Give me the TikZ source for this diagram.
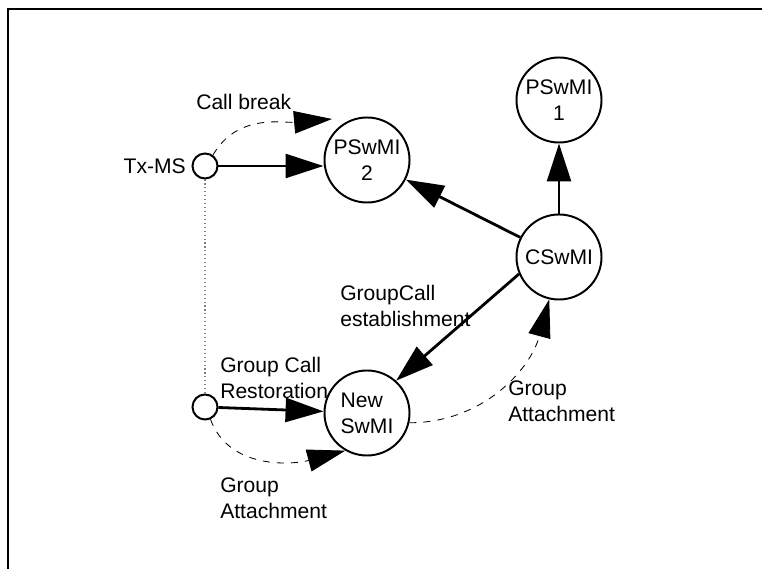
\documentclass[tikz,border=0pt]{standalone}
\usepackage{fontspec}
\setmainfont{Liberation Sans}
\usetikzlibrary{arrows.meta}

\begin{document}
\begin{tikzpicture}[x=0.025cm, y=-0.025cm,
  font=\fontsize{15}{18.5}\selectfont,
  swmi/.style = {shape=circle, draw, line width=1.4pt,
    minimum size=2.125cm, inner sep=0pt, align=center},
  ms/.style = {shape=circle, draw, line width=1.4pt,
    minimum size=0.625cm, inner sep=0pt},
  lbl/.style = {anchor=west, inner sep=0pt, align=left},
  msg/.style = {line width=2pt, -{Triangle[length=27pt, width=17pt]}},
  back/.style = {dash pattern=on 5pt off 5pt, line width=0.6pt,
    -{Triangle[length=27pt, width=16pt]}}]
  \useasboundingbox (0,0) rectangle (762,569);
  \draw[line width=1.8pt] (8,569) -- (8,9) -- (762,9);

  \node[swmi] (pswmi1) at (559,100) {PSwMI\\1};
  \node[swmi] (pswmi2) at (367,160) {PSwMI\\2};
  \node[swmi] (cswmi) at (559,257) {CSwMI};
  \node[swmi, align=left] (newswmi) at (367,413) {New\\SwMI};
  \node[ms] (txms) at (205,166) {};
  \node[ms] (msnew) at (205,407) {};

  \node[lbl, anchor=east] (txmslbl) at (186,166) {Tx-MS};
  \node[lbl] (cbreak) at (196,102) {Call break};
  \node[lbl] (restore) at (220,378) {Group Call\\Restoration};
  \node[lbl] (establish) at (340,306) {GroupCall\\establishment};
  \node[lbl] (attachR) at (508,401) {Group\\Attachment};
  \node[lbl] (attachB) at (220,498) {Group\\Attachment};

  \coordinate (cbtip) at (332,119);
  \draw[msg] (txms.east) -- (txms.east -| pswmi2.west);
  \draw[msg] (cswmi) -- (pswmi1);
  \draw[msg] (cswmi) -- (pswmi2);
  \draw[msg] (cswmi.203) -- (newswmi.48);
  \draw[msg] (msnew) -- (newswmi);
  \draw[dotted, gray, line width=0.8pt] (txms) -- (msnew);
  \draw[back] (txms.54) to[out=60, in=185] (cbtip);
  \draw[back] (newswmi.347) to[out=0, in=255] (cswmi.257);
  \draw[back] (msnew.294) to[out=-70, in=195] (newswmi.240);
\end{tikzpicture}
\end{document}
